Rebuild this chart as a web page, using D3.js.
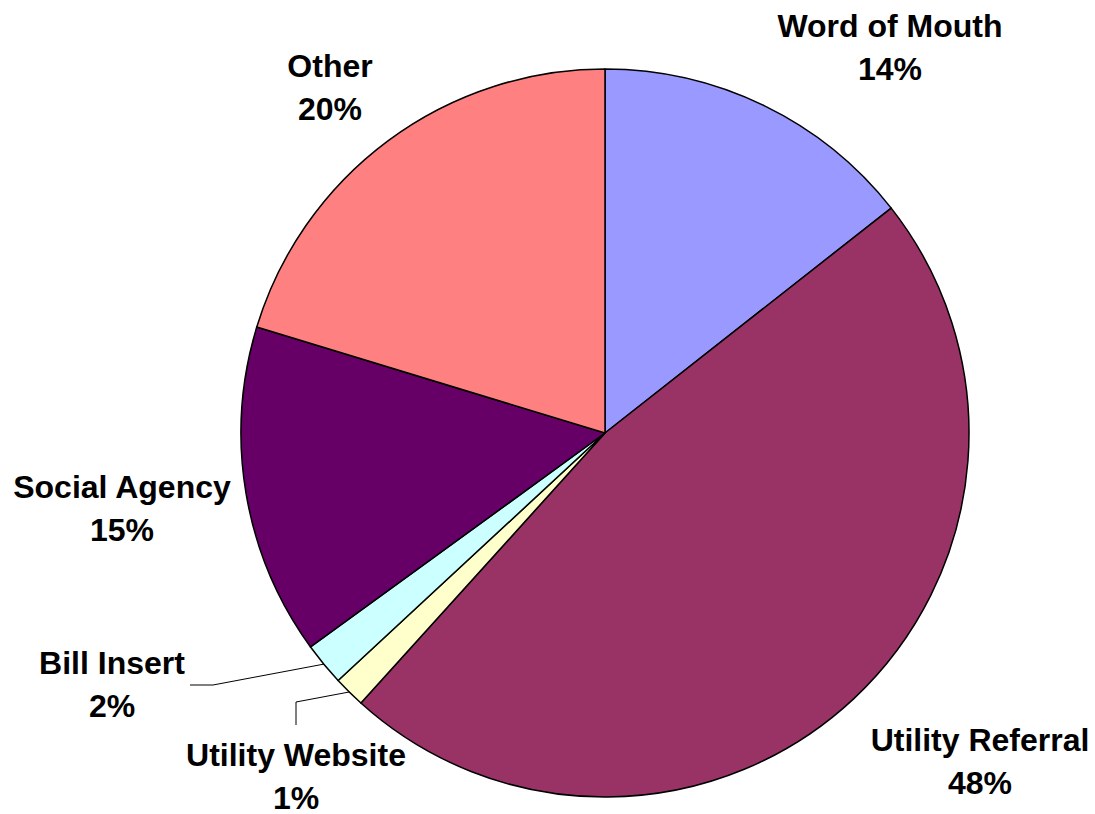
<!DOCTYPE html>
<html>
<head>
<meta charset="utf-8">
<script src="https://cdn.jsdelivr.net/npm/d3@7"></script>
<style>
  body { margin: 0; background: #fff; }
  text { font-family: Arial, "Liberation Sans", sans-serif; font-weight: bold; font-size: 32px; fill: #000; }
</style>
</head>
<body>
<div id="chart"></div>
<script>
// slice data, clockwise from 12 o'clock
var categories = ['Word of Mouth', 'Utility Referral', 'Utility Website', 'Bill Insert', 'Social Agency', 'Other'];
var values = [14.4, 47.3, 1.4, 1.9, 14.7, 20.3];
var pctLabels = ['14%', '48%', '1%', '2%', '15%', '20%'];
var colors = ['#9999FF', '#993366', '#FFFFCC', '#CCFFFF', '#660066', '#FF8080'];

var width = 1095, height = 814;
var cx = 605, cy = 433, radius = 364;

// label anchor (centre x, first baseline), and leader line elbows
var labelPos = [
  { x: 890, y: 37 },
  { x: 980, y: 751 },
  { x: 296, y: 766 },
  { x: 112, y: 674 },
  { x: 122, y: 498 },
  { x: 330, y: 77 }
];
var leaders = {
  2: [[296, 725], [296, 702]],
  3: [[190, 685], [213, 685]]
};

var svg = d3.select('#chart').append('svg')
  .attr('width', width)
  .attr('height', height);

var pie = d3.pie().sort(null).value(function(d) { return d; });
var arcs = pie(values);

var arc = d3.arc().innerRadius(0).outerRadius(radius);
var edge = d3.arc().innerRadius(radius).outerRadius(radius);

var g = svg.append('g')
  .attr('transform', 'translate(' + cx + ',' + cy + ')');

g.selectAll('path.slice')
  .data(arcs)
  .enter().append('path')
  .attr('class', 'slice')
  .attr('d', arc)
  .attr('fill', function(d, i) { return colors[i]; })
  .attr('stroke', '#000')
  .attr('stroke-width', 1.5)
  .attr('stroke-linejoin', 'round');

// leader lines for the thin slices
Object.keys(leaders).forEach(function(k) {
  var i = +k;
  var c = edge.centroid(arcs[i]);
  var pts = leaders[k].concat([[c[0] + cx, c[1] + cy]]);
  svg.append('path')
    .attr('d', d3.line()(pts))
    .attr('fill', 'none')
    .attr('stroke', '#000')
    .attr('stroke-width', 1);
});

// labels
var lab = svg.selectAll('text.lab')
  .data(categories)
  .enter().append('text')
  .attr('class', 'lab')
  .attr('text-anchor', 'middle')
  .attr('x', function(d, i) { return labelPos[i].x; })
  .attr('y', function(d, i) { return labelPos[i].y; });

lab.append('tspan')
  .attr('x', function(d, i) { return labelPos[i].x; })
  .text(function(d) { return d; });
lab.append('tspan')
  .attr('x', function(d, i) { return labelPos[i].x; })
  .attr('dy', 43)
  .text(function(d, i) { return pctLabels[i]; });
</script>
</body>
</html>
